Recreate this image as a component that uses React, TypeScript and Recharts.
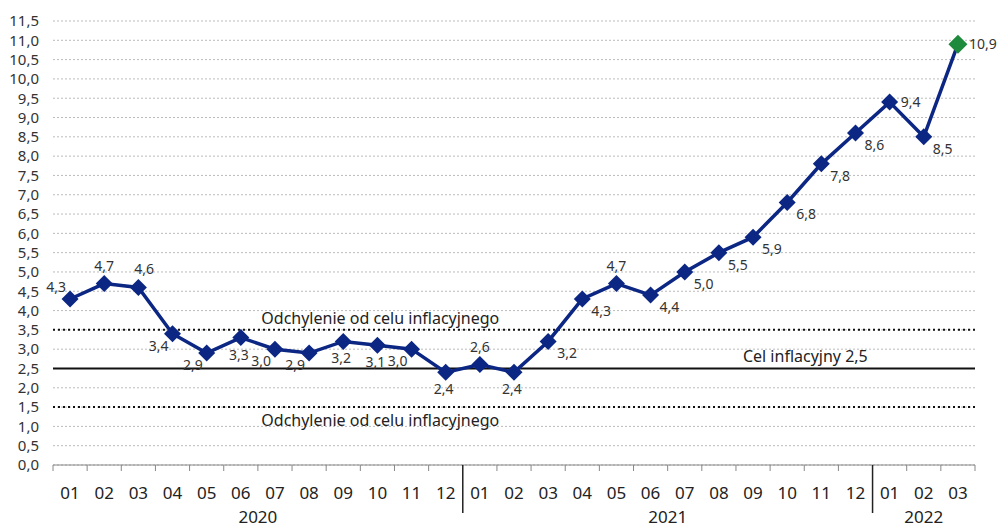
import React from 'react';
import { LineChart, Line, XAxis, YAxis, CartesianGrid, ReferenceLine, LabelList } from 'recharts';

const months = ['01','02','03','04','05','06','07','08','09','10','11','12','01','02','03','04','05','06','07','08','09','10','11','12','01','02','03'];
const years = ['2020','2020','2020','2020','2020','2020','2020','2020','2020','2020','2020','2020','2021','2021','2021','2021','2021','2021','2021','2021','2021','2021','2021','2021','2022','2022','2022'];
const cpi = [4.3,4.7,4.6,3.4,2.9,3.3,3.0,2.9,3.2,3.1,3.0,2.4,2.6,2.4,3.2,4.3,4.7,4.4,5.0,5.5,5.9,6.8,7.8,8.6,9.4,8.5,10.9];
const yTicks = [0,0.5,1,1.5,2,2.5,3,3.5,4,4.5,5,5.5,6,6.5,7,7.5,8,8.5,9,9.5,10,10.5,11,11.5];
const targetLine = 2.5;
const upperBand = 3.5;
const lowerBand = 1.5;
const bandLabel = 'Odchylenie od celu inflacyjnego';
const targetLabel = 'Cel inflacyjny 2,5';

// label placement per point (style only)
const placement = ['L','T','TR','BL','BL','B','BL','BL','B','B','BL','B','T','B','BR','BR','T','BR','BR','BR','BR','BR','BR','BR','R','BR','R'];

const data = months.map((m, i) => ({ i, m, year: years[i], v: cpi[i] }));

const W = 1003, H = 528;
const XH = 30;
const M = { top: 21, right: 28, bottom: 63 - XH, left: 0 };
const YW = 53;
const plotW = W - M.left - M.right - YW;
const bw = plotW / data.length;
const NAVY = '#0b2683';
const GREEN = '#1e8a3c';
const FONT = '"Noto Sans", sans-serif';
const fmt = (v: number) => v.toFixed(1).replace('.', ',');

const yearInfo: Record<string, { first: number; count: number }> = {};
years.forEach((y, i) => {
  if (!yearInfo[y]) yearInfo[y] = { first: i, count: 0 };
  yearInfo[y].count++;
});

const MonthTick = (props: any) => {
  const { x, y, payload } = props;
  const idx = payload.index;
  const yr = years[idx];
  const info = yearInfo[yr];
  const isFirst = info.first === idx;
  const left = x - bw / 2;
  const els: any[] = [];
  if (isFirst && idx > 0) {
    els.push(<line key="sep" x1={left} x2={left} y1={y} y2={y + 48} stroke="#222" strokeWidth={1.5} />);
  } else {
    els.push(<line key="t" x1={left} x2={left} y1={y} y2={y + 6} stroke="#888" strokeWidth={1} />);
  }
  if (idx === data.length - 1) {
    els.push(<line key="te" x1={x + bw / 2} x2={x + bw / 2} y1={y} y2={y + 6} stroke="#888" strokeWidth={1} />);
  }
  els.push(
    <text key="m" x={x} y={y + 34} textAnchor="middle" fontSize={17} fill="#222" fontFamily={FONT}>{months[idx]}</text>
  );
  if (isFirst) {
    const cx = x + ((info.count - 1) / 2) * bw;
    els.push(
      <text key="y" x={cx} y={y + 58} textAnchor="middle" fontSize={17} fill="#222" fontFamily={FONT}>{yr}</text>
    );
  }
  return <g>{els}</g>;
};

const Dot = (props: any) => {
  const { cx, cy, index } = props;
  if (cx == null || cy == null) return null;
  const last = index === data.length - 1;
  const r = last ? 9.5 : 8.5;
  return (
    <path
      d={`M${cx},${cy - r} L${cx + r},${cy} L${cx},${cy + r} L${cx - r},${cy} Z`}
      fill={last ? GREEN : NAVY}
      stroke="none"
    />
  );
};

const PointLabel = (props: any) => {
  const { x, y, index, value } = props;
  const p = placement[index];
  let dx = 0, dy = 0, anchor = 'middle';
  switch (p) {
    case 'L': dx = -4; dy = -7; anchor = 'end'; break;
    case 'T': dx = 0; dy = -13; anchor = 'middle'; break;
    case 'TR': dx = -4; dy = -13; anchor = 'start'; break;
    case 'B': dx = -2; dy = 22; anchor = 'middle'; break;
    case 'BL': dx = -4; dy = 17; anchor = 'end'; break;
    case 'BR': dx = 9; dy = 17; anchor = 'start'; break;
    case 'R': dx = 11; dy = 5; anchor = 'start'; break;
  }
  return (
    <text x={x + dx} y={y + dy} textAnchor={anchor} fontSize={14} fill="#333" fontFamily={FONT}>
      {fmt(value)}
    </text>
  );
};

const lineLabel = (text: string, frac: number, dy: number) => (props: any) => {
  const vb = props.viewBox;
  return (
    <text x={vb.x + vb.width * frac} y={vb.y + dy} textAnchor="middle" fontSize={16} fill="#222" fontFamily={FONT}>
      {text}
    </text>
  );
};

export default function App() {
  return (
    <div style={{ position: 'absolute', left: 0, top: 0, width: W, height: H, background: '#fff' }}>
      <LineChart width={W} height={H} data={data} margin={M}>
        <CartesianGrid vertical={false} stroke="#bbb" strokeDasharray="2 2" />
        <XAxis
          dataKey="i"
          type="category"
          scale="band"
          height={XH}
          tick={<MonthTick />}
          interval={0}
          tickLine={false}
          tickSize={0}
          tickMargin={0}
          axisLine={{ stroke: '#888' }}
        />
        <YAxis
          width={YW}
          domain={[0, 11.5]}
          ticks={yTicks}
          interval={0}
          tickFormatter={fmt}
          axisLine={false}
          tickLine={false}
          tick={{ fontSize: 15, fill: '#333', fontFamily: FONT, dx: -6 }}
        />
        <ReferenceLine y={upperBand} stroke="#111" strokeWidth={2} strokeDasharray="2 3" label={lineLabel(bandLabel, 0.355, -6)} />
        <ReferenceLine y={targetLine} stroke="#111" strokeWidth={2} label={lineLabel(targetLabel, 0.816, -6)} />
        <ReferenceLine y={lowerBand} stroke="#111" strokeWidth={2} strokeDasharray="2 3" label={lineLabel(bandLabel, 0.355, 19)} />
        <Line
          dataKey="v"
          stroke={NAVY}
          strokeWidth={3.5}
          dot={<Dot />}
          activeDot={false}
          isAnimationActive={false}
        >
          <LabelList dataKey="v" content={<PointLabel />} />
        </Line>
      </LineChart>
    </div>
  );
}
